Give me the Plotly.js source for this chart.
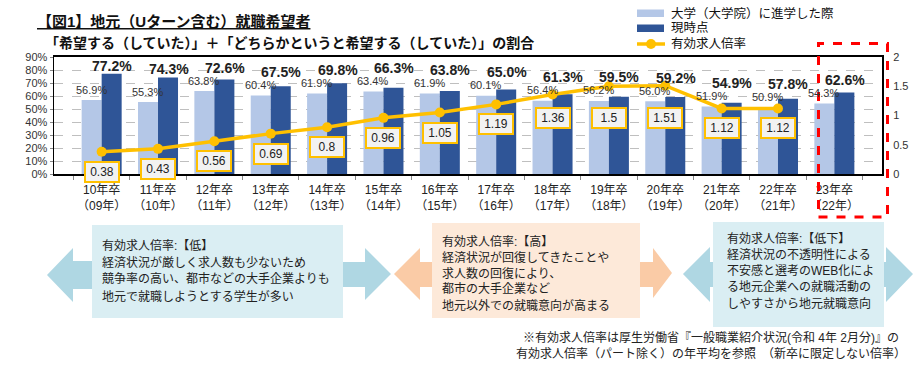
<!DOCTYPE html>
<html><head><meta charset="utf-8">
<script src="https://cdn.plot.ly/plotly-3.0.1.min.js"></script>
<style>html,body{margin:0;padding:0;background:#fff}#chart{width:922px;height:374px}</style>
</head><body><div id="chart"></div>
<script>
const categories = ['10年卒','11年卒','12年卒','13年卒','14年卒','15年卒','16年卒','17年卒','18年卒','19年卒','20年卒','21年卒','22年卒','23年卒'];
const yearLabels = ['（09年）','（10年）','（11年）','（12年）','（13年）','（14年）','（15年）','（16年）','（17年）','（18年）','（19年）','（20年）','（21年）','（22年）'];
const univRate = [56.9,55.3,63.8,60.4,61.9,63.4,61.9,60.1,56.4,56.2,56.0,51.9,50.9,54.3];
const nowRate = [77.2,74.3,72.6,67.5,69.8,66.3,63.8,65.0,61.3,59.5,59.2,54.9,57.8,62.6];
const jobRatio = [0.38,0.43,0.56,0.69,0.8,0.96,1.05,1.19,1.36,1.5,1.51,1.12,1.12,null];
const seriesNames = ['大学（大学院）に進学した際','現時点','有効求人倍率'];
const titleText = '【図1】地元（Uターン含む）就職希望者';
const subtitleText = '「希望する（していた）」＋「どちらかというと希望する（していた）」の割合';
const noteLow = ['有効求人倍率:【低】','経済状況が厳しく求人数も少ないため','競争率の高い、都市などの大手企業よりも','地元で就職しようとする学生が多い'];
const noteHigh = ['有効求人倍率:【高】','経済状況が回復してきたことや','求人数の回復により、','都市の大手企業など','地元以外での就職意向が高まる'];
const noteDown = ['有効求人倍率:【低下】','経済状況の不透明性による','不安感と選考のWEB化によ','る地元企業への就職活動の','しやすさから地元就職意向'];
const footnote = ['※有効求人倍率は厚生労働省『一般職業紹介状況(令和 4年 2月分)』の','有効求人倍率（パート除く）の年平均を参照　（新卒に限定しない倍率）'];

const W=922,H=374,L=54,R=882,T=57,B=174;
const px = x => (x-L)/(R-L);
const py = y => (B-y)/(B-T);
const P = (x,y) => px(x).toFixed(5)+','+py(y).toFixed(5);
const poly = pts => 'M'+pts.map(p=>P(p[0],p[1])).join('L')+'Z';

const FONT = 'Liberation Sans, Noto Sans CJK JP, sans-serif';
const LIGHT='#B4C7E7', DARK='#2F5597', GOLD='#FFC000';
const BLUEBOX='#DAEEF3', BLUEARR='#AFD7E3', ORBOX='#FDE9D9', ORARR='#FACBA6';

const traces = [
  {type:'bar', x:categories, y:univRate, name:seriesNames[0], marker:{color:LIGHT}, showlegend:false, hoverinfo:'skip'},
  {type:'bar', x:categories, y:nowRate, name:seriesNames[1], marker:{color:DARK}, showlegend:false, hoverinfo:'skip'},
  {type:'scatter', mode:'lines+markers', x:categories, y:jobRatio, yaxis:'y2', name:seriesNames[2],
   line:{color:GOLD,width:3.5}, marker:{color:GOLD,size:10}, showlegend:false, hoverinfo:'skip', connectgaps:false}
];

const ann = [];
const pxPerPct = (B-T)/90, pxPerRatio = (B-T)/2;
categories.forEach((c,i)=>{
  ann.push({x:c,xref:'x',y:univRate[i],yref:'y',text:univRate[i].toFixed(1)+'%',showarrow:false,
    xshift:-10.5,yshift:10.5,yanchor:'middle',font:{family:FONT,size:11,color:'#333'}});
  const dShift = Math.max(8, 23.5 - (nowRate[i]-univRate[i])*pxPerPct);
  ann.push({x:c,xref:'x',y:nowRate[i],yref:'y',text:'<b>'+nowRate[i].toFixed(1)+'%</b>',showarrow:false,
    xshift:10.5,yshift:dShift,yanchor:'middle',font:{family:FONT,size:14,color:'#222'}});
  if(jobRatio[i]!==null){
    const off = Math.max(20, 17 + jobRatio[i]*pxPerRatio - univRate[i]*pxPerPct);
    ann.push({x:c,xref:'x',y:jobRatio[i],yref:'y2',text:String(jobRatio[i]),showarrow:false,
      yshift:-off,yanchor:'middle',bgcolor:'#F2F2F2',bordercolor:GOLD,borderwidth:2,borderpad:2,
      width:28,font:{family:FONT,size:12,color:'#222'}});
  }
});
ann.push({x:px(35),y:py(21),xref:'paper',yref:'paper',xanchor:'left',yanchor:'middle',showarrow:false,
  text:'<b><u>'+titleText+'</u></b>',font:{family:FONT,size:15,color:'#111'}});
ann.push({x:px(43),y:py(43),xref:'paper',yref:'paper',xanchor:'left',yanchor:'middle',showarrow:false,
  text:'<b>'+subtitleText+'</b>',font:{family:FONT,size:14,color:'#111'}});
[13,28,44].forEach((yy,k)=>{
  ann.push({x:px(669),y:py(yy),xref:'paper',yref:'paper',xanchor:'left',yanchor:'middle',showarrow:false,
    text:seriesNames[k],font:{family:FONT,size:12.5,color:'#111'}});
});
const addLines=(lines,x,y0,dy)=>lines.forEach((t,k)=>ann.push({x:px(x),y:py(y0+k*dy),xref:'paper',yref:'paper',
  xanchor:'left',yanchor:'middle',showarrow:false,text:t,font:{family:FONT,size:12,color:'#222'}}));
addLines(noteLow,100,245,17);
addLines(noteHigh,440,241,16);
addLines(noteDown,725,238,16.3);
footnote.forEach((t,k)=>ann.push({x:px(711),y:py(337+k*16),xref:'paper',yref:'paper',xanchor:'center',yanchor:'middle',
  showarrow:false,text:t,font:{family:FONT,size:12,color:'#222'}}));

const sh = [];
const pathShape=(d,color)=>({type:'path',xref:'paper',yref:'paper',path:d,fillcolor:color,line:{width:0},layer:'above'});
const rectShape=(x0,y0,x1,y1,color)=>({type:'rect',xref:'paper',yref:'paper',x0:px(x0),x1:px(x1),y0:py(y1),y1:py(y0),fillcolor:color,line:{width:0}});
sh.push(pathShape(poly([[47,275],[73,248],[73,261],[93,261],[93,289],[73,289],[73,302]]),BLUEARR));
sh.push(pathShape(poly([[342,262],[365,262],[365,248],[391,274],[365,300],[365,287],[342,287]]),BLUEARR));
sh.push(pathShape(poly([[394,274],[420,248],[420,262],[433,262],[433,287],[420,287],[420,300]]),ORARR));
sh.push(pathShape(poly([[639,262],[653,262],[653,248],[672,273],[653,298],[653,287],[639,287]]),ORARR));
sh.push(pathShape(poly([[683,274],[710,247],[710,262],[714,262],[714,287],[710,287],[710,302]]),BLUEARR));
sh.push(pathShape(poly([[883,262],[886,262],[886,247],[913,274],[886,302],[886,287],[883,287]]),BLUEARR));
sh.push(rectShape(92,225,343,318,BLUEBOX));
sh.push(rectShape(432,223,640,318,ORBOX));
sh.push(rectShape(713,222,884,327,BLUEBOX));
sh.push(rectShape(637,9.5,664,17,LIGHT));
sh.push(rectShape(637,24.5,664,32,DARK));
sh.push({type:'line',xref:'paper',yref:'paper',x0:px(637),x1:px(665),y0:py(44),y1:py(44),line:{color:GOLD,width:3.5}});
sh.push({type:'circle',xref:'paper',yref:'paper',x0:px(646),x1:px(656),y0:py(49),y1:py(39),fillcolor:GOLD,line:{width:0}});
sh.push({type:'rect',xref:'paper',yref:'paper',x0:px(818.5),x1:px(887.5),y0:py(217),y1:py(43.5),
  line:{color:'#FF0000',width:3,dash:'dash'},fillcolor:'rgba(0,0,0,0)',layer:'above'});

const layout = {
  width:W,height:H,margin:{l:L,r:W-R,t:T,b:H-B,pad:0},
  paper_bgcolor:'#fff',plot_bgcolor:'#fff',
  font:{family:FONT,size:11,color:'#333'},
  barmode:'group',bargap:0.29,bargroupgap:0,
  showlegend:false,
  xaxis:{type:'category',tickvals:categories,ticktext:categories.map((c,i)=>c+'<br>'+yearLabels[i]),tickangle:0,
    tickfont:{family:FONT,size:12,color:'#222'},showline:true,linecolor:'#000',linewidth:2,mirror:true,
    ticks:'outside',tickson:'boundaries',ticklen:4,tickcolor:'#888',ticklabelstandoff:4,showgrid:false,fixedrange:true},
  yaxis:{range:[0,90],dtick:10,ticksuffix:'%',tickfont:{family:FONT,size:11,color:'#333'},
    showline:true,linecolor:'#000',linewidth:1.5,mirror:true,ticks:'outside',ticklen:3,tickcolor:'#888',
    showgrid:true,gridcolor:'#BFBFBF',griddash:'dash',gridwidth:1,zeroline:false,fixedrange:true},
  yaxis2:{range:[0,2],dtick:0.5,overlaying:'y',side:'right',tickfont:{family:FONT,size:11,color:'#333'},
    showgrid:false,zeroline:false,showline:false,ticks:'outside',ticklen:8,tickcolor:'rgba(0,0,0,0)',fixedrange:true},
  annotations:ann,shapes:sh
};
Plotly.newPlot('chart',traces,layout,{staticPlot:true,displayModeBar:false});
</script></body></html>
